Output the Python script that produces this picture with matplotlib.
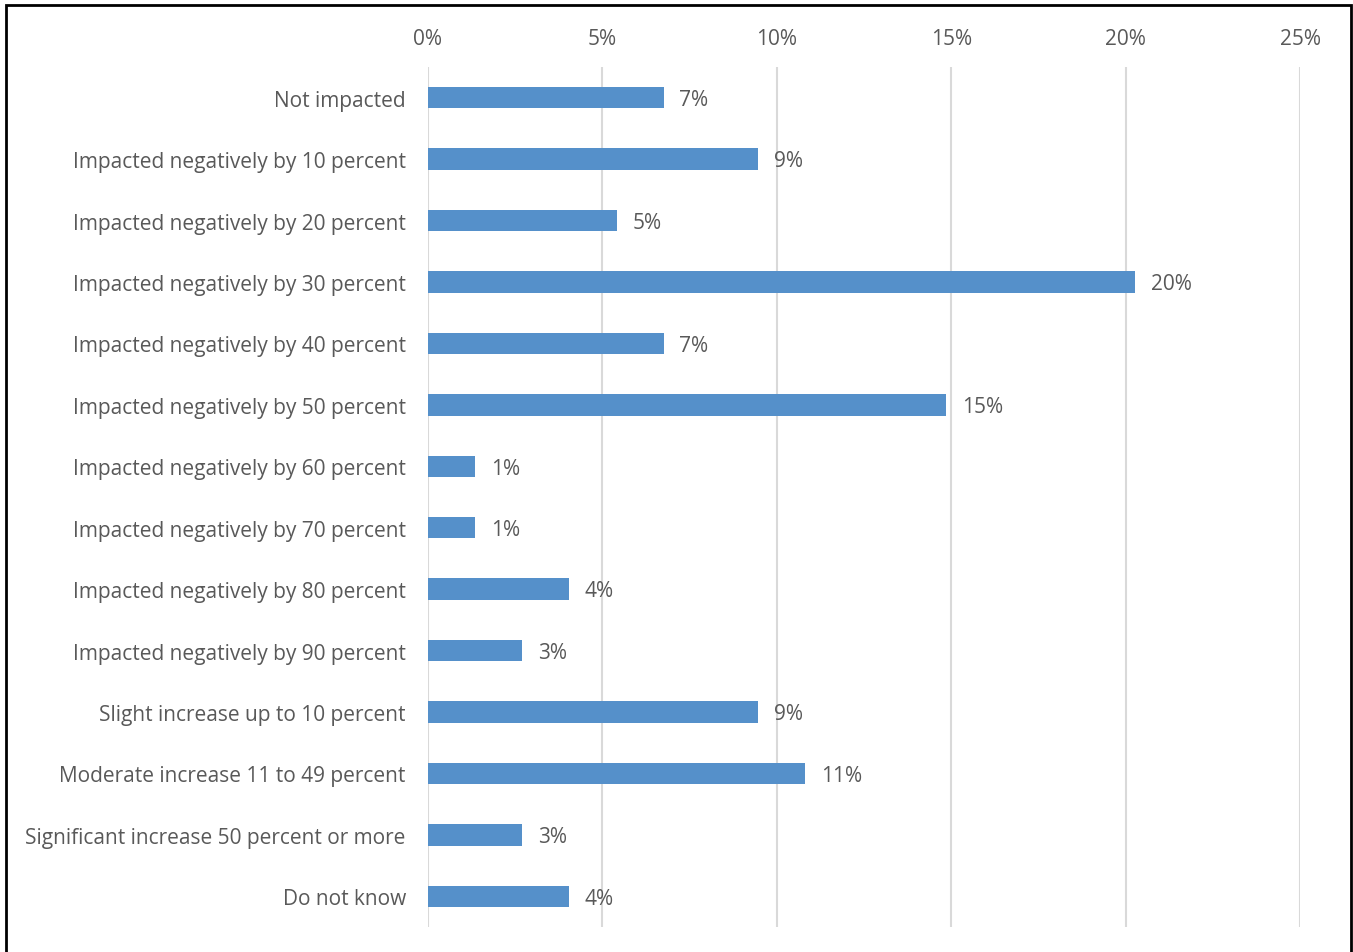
import matplotlib
matplotlib.use("Agg")
import matplotlib.pyplot as plt
from matplotlib.patches import Rectangle

# 回答分布（n = 74）
categories = [
    "Not impacted",
    "Impacted negatively by 10 percent",
    "Impacted negatively by 20 percent",
    "Impacted negatively by 30 percent",
    "Impacted negatively by 40 percent",
    "Impacted negatively by 50 percent",
    "Impacted negatively by 60 percent",
    "Impacted negatively by 70 percent",
    "Impacted negatively by 80 percent",
    "Impacted negatively by 90 percent",
    "Slight increase up to 10 percent",
    "Moderate increase 11 to 49 percent",
    "Significant increase 50 percent or more",
    "Do not know",
]
values = [6.76, 9.46, 5.41, 20.27, 6.76, 14.86, 1.35, 1.35, 4.05, 2.70, 9.46, 10.81, 2.70, 4.05]
value_labels = ["7%", "9%", "5%", "20%", "7%", "15%", "1%", "1%", "4%", "3%", "9%", "11%", "3%", "4%"]
x_ticks = [0, 5, 10, 15, 20, 25]
x_tick_labels = ["0%", "5%", "10%", "15%", "20%", "25%"]

plt.rcParams["font.family"] = ["Open Sans", "DejaVu Sans"]
TEXT = "#595959"
FS = 15

W, H = 1353, 953
fig = plt.figure(figsize=(W / 100, H / 100), dpi=100)
ax = fig.add_axes([428 / W, 1 - 928 / H, (1300 - 428) / W, (928 - 68) / H])

y = list(range(len(categories)))
ax.barh(y, values, height=0.35, color="#5590CA", zorder=3)
for yi, v, lab in zip(y, values, value_labels):
    ax.text(v + 0.45, yi + 0.03, lab, va="center", ha="left", fontsize=FS, color=TEXT)

ax.set_xlim(0, 25)
ax.set_ylim(len(categories) - 0.5, -0.5)
ax.set_yticks(y)
ax.set_yticklabels(categories, fontsize=FS, color=TEXT)
ax.set_xticks(x_ticks)
ax.set_xticklabels(x_tick_labels, fontsize=FS, color=TEXT)
ax.xaxis.tick_top()
ax.tick_params(axis="both", length=0)
ax.tick_params(axis="x", pad=13)
ax.tick_params(axis="y", pad=16)
ax.grid(axis="x", color="#D9D9D9", linewidth=1.5, zorder=0)
for s in ax.spines.values():
    s.set_visible(False)

# 外框（底部被裁掉）
fig.patches.append(Rectangle((6 / W, -0.05), (1351 - 6) / W, 1.05 - 6 / H,
                             transform=fig.transFigure, fill=False,
                             edgecolor="black", linewidth=2))

fig.savefig("out.png", dpi=100)
